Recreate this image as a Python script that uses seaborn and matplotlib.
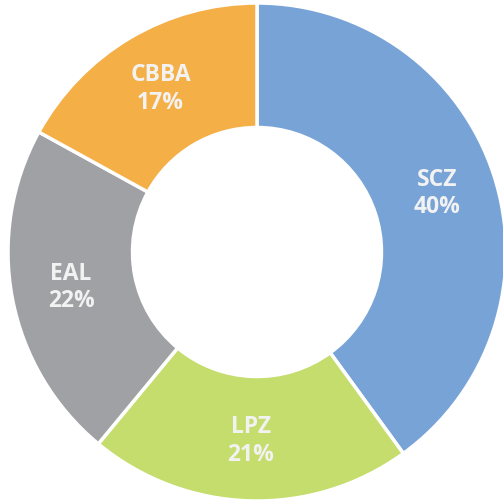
import matplotlib
matplotlib.use('Agg')
import matplotlib.pyplot as plt
import seaborn as sns

# data (clockwise from 12 o'clock)
regions = ["SCZ", "LPZ", "EAL", "CBBA"]
shares = [40, 21, 22, 17]
colors = ["#78A3D6", "#C4DD6C", "#A0A1A5", "#F4AF47"]

sns.set_style("white")
plt.rcParams['font.family'] = ['Open Sans', 'DejaVu Sans']

fig = plt.figure(figsize=(5.03, 5.04), dpi=100)
ax = fig.add_axes([0, 0, 1, 1])

labels = [f"{r}\n{s}%" for r, s in zip(regions, shares)]
wedges, texts = ax.pie(shares, labels=labels, colors=colors, startangle=90,
                       counterclock=False, radius=1, labeldistance=0.76,
                       wedgeprops=dict(width=0.5, edgecolor='white', linewidth=2.5),
                       textprops=dict(color='#F2F2F2', fontsize=16.5, fontweight='bold',
                                      ha='center', va='center', linespacing=1.2))

# place the donut like in the picture (centre ~ (257, 252) px, radius ~249 px)
r_px = 249
ax.set_xlim(-257 / r_px, (503 - 257) / r_px)
ax.set_ylim(-(504 - 252) / r_px, 252 / r_px)
ax.set_aspect('auto')
ax.axis('off')

fig.savefig("out.png", dpi=100, facecolor='white')
